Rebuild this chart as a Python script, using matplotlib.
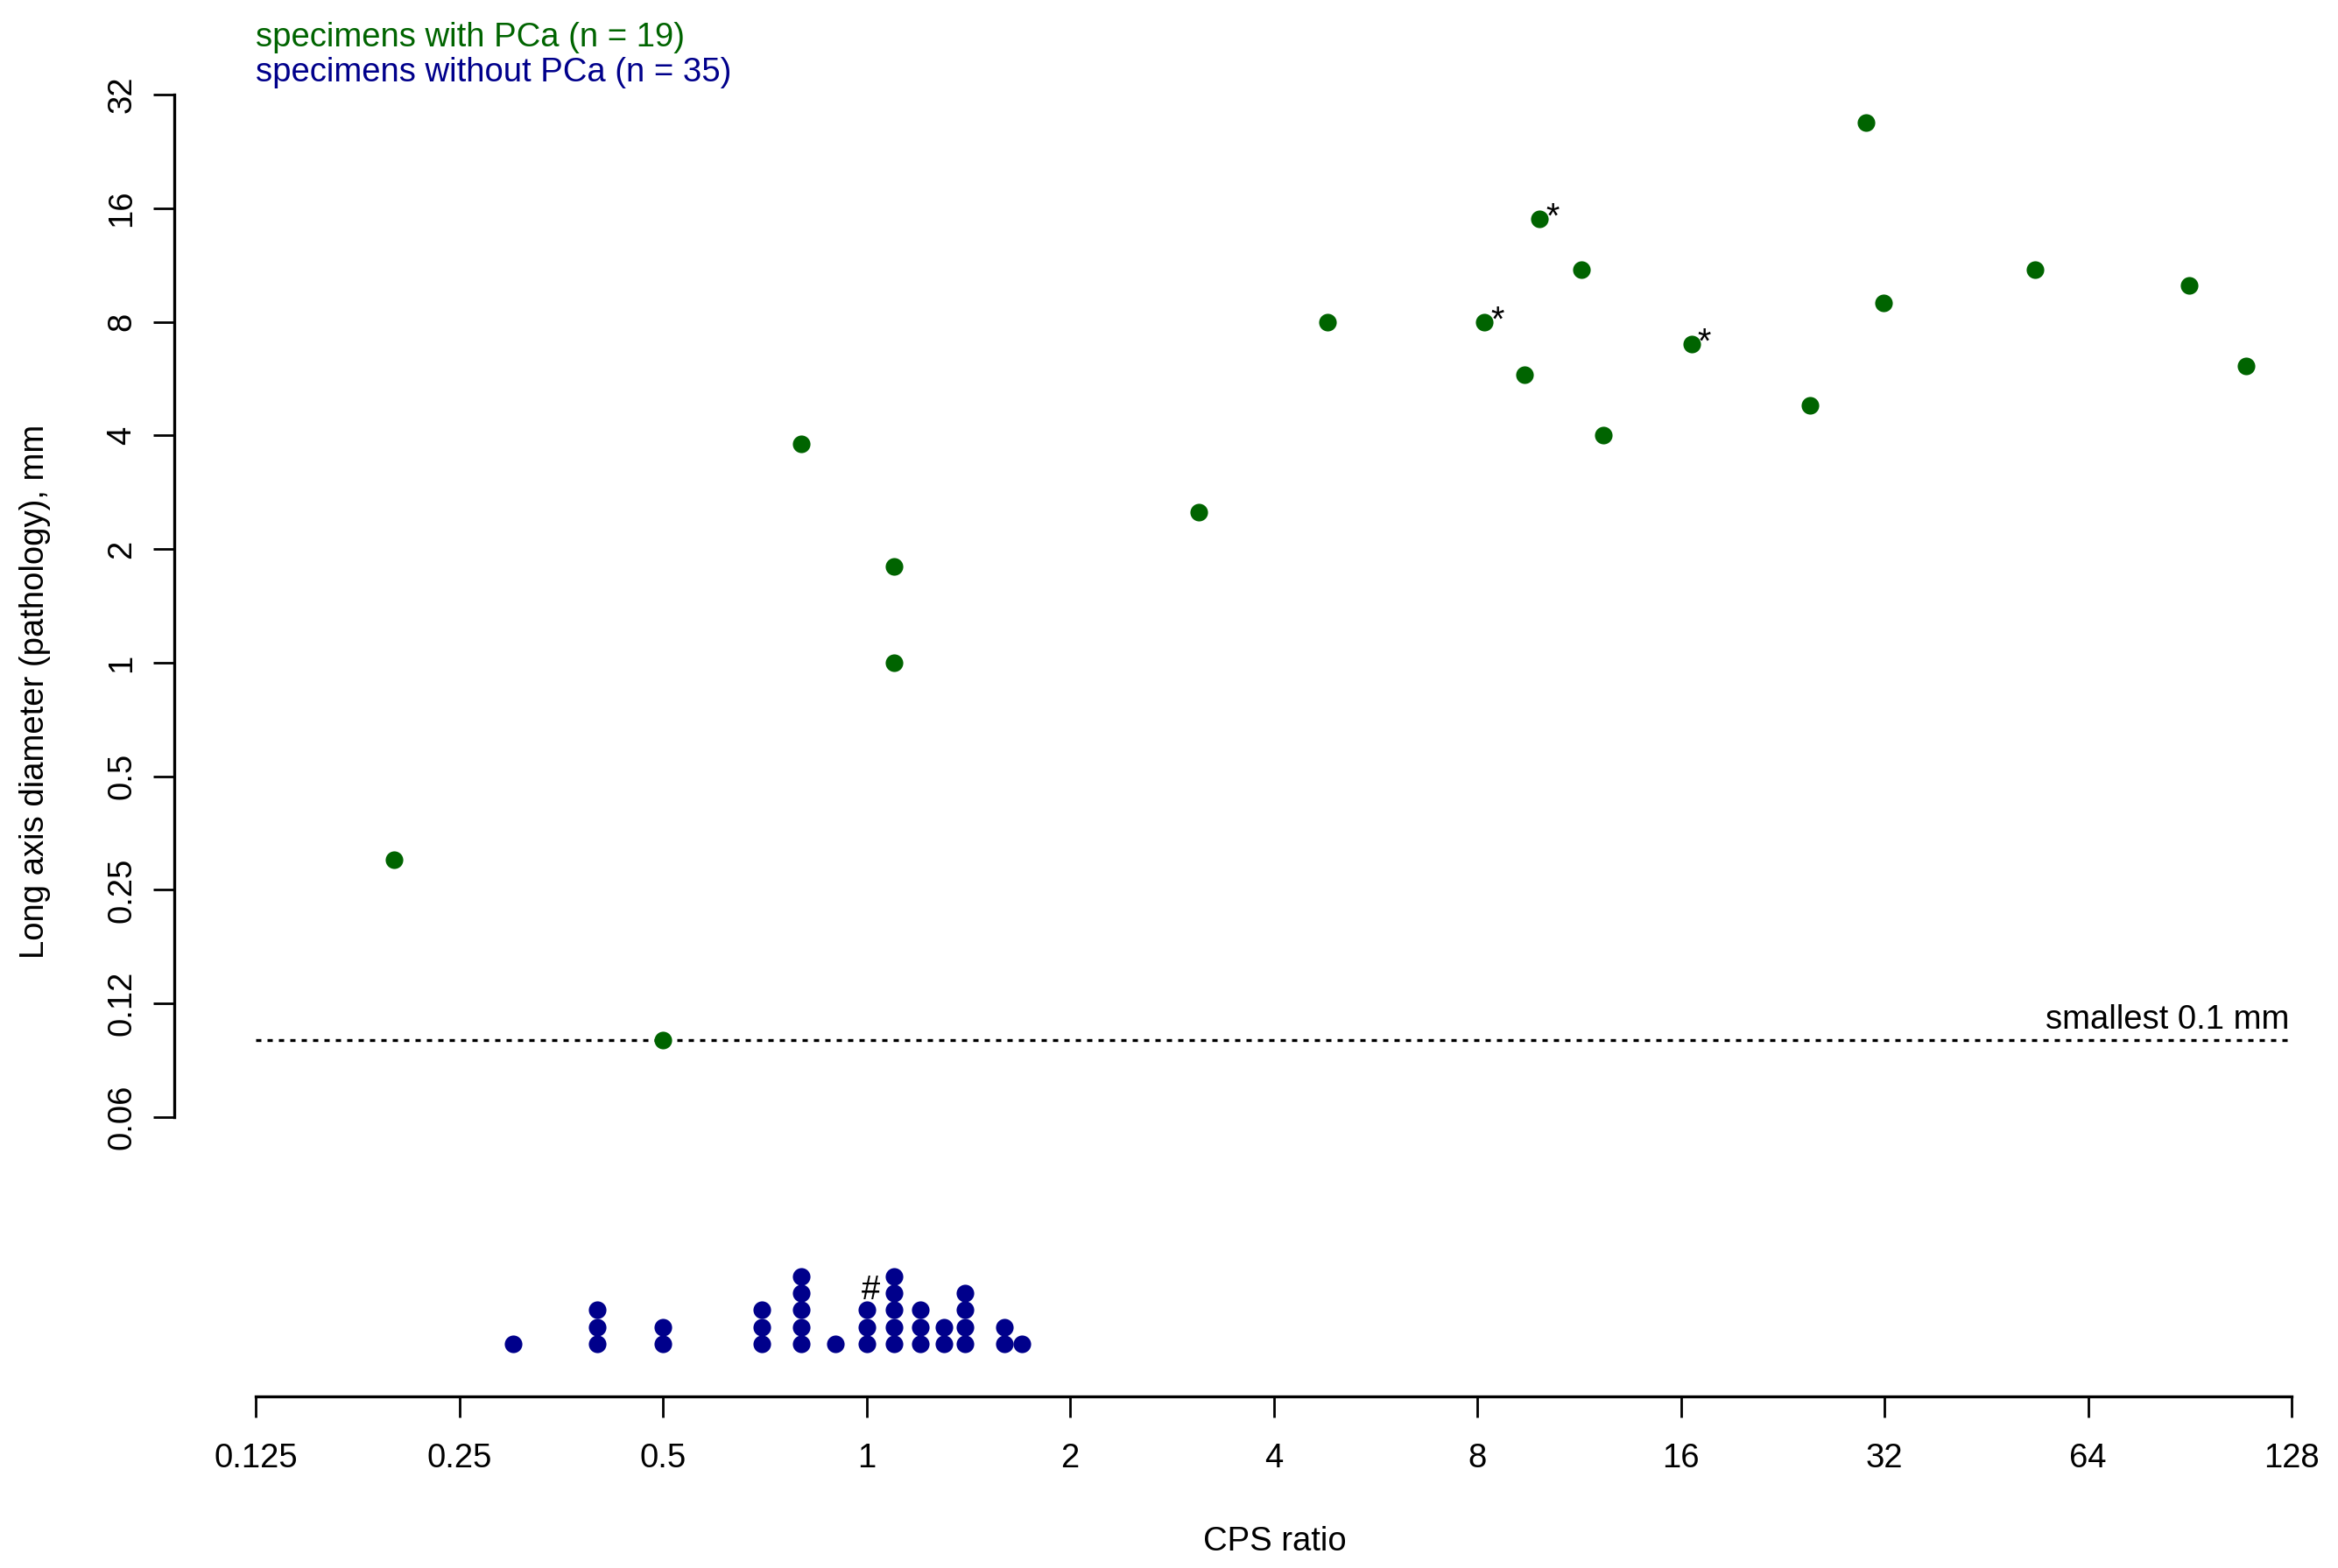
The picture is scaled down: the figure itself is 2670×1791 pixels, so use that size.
import matplotlib
matplotlib.use('Agg')
import matplotlib.pyplot as plt

# specimens with PCa: CPS ratio vs long axis diameter (mm)
green_x = [0.2, 0.5, 0.8, 1.1, 1.1, 3.1, 4.8, 8.2, 9.4, 9.9, 11.4, 12.3,
           16.6, 24.8, 30.1, 31.9, 53.5, 90.4, 109.5]
green_y = [0.3, 0.1, 3.8, 1.8, 1.0, 2.5, 8.0, 8.0, 5.8, 15.0, 11.0, 4.0,
           7.0, 4.8, 27.0, 9.0, 11.0, 10.0, 6.1]
green_star = [False, False, False, False, False, False, False, True, False, True,
              False, False, True, False, False, False, False, False, False]

# specimens without PCa: CPS ratio and number of specimens at each value
blue_x = [0.3, 0.4, 0.5, 0.7, 0.8, 0.9, 1.0, 1.1, 1.2, 1.3, 1.4, 1.6, 1.7]
blue_n = [1, 3, 2, 3, 5, 1, 3, 5, 3, 2, 4, 2, 1]
hash_x = 1.0

x_ticks = [0.125, 0.25, 0.5, 1, 2, 4, 8, 16, 32, 64, 128]
x_labels = ['0.125', '0.25', '0.5', '1', '2', '4', '8', '16', '32', '64', '128']
y_ticks = [0.0625, 0.125, 0.25, 0.5, 1, 2, 4, 8, 16, 32]
y_labels = ['0.06', '0.12', '0.25', '0.5', '1', '2', '4', '8', '16', '32']
min_size = 0.1

GREEN = '#006400'
BLUE = '#00008b'
FS = 27.5

plt.rcParams['font.family'] = ['Liberation Sans', 'DejaVu Sans']

W, H = 2670, 1791
fig = plt.figure(figsize=(W / 100, H / 100), dpi=100)

# pixel layout of the reference
x_left, x_right = 292, 2617      # 0.125 .. 128
y_top_tick, y_bot_tick = 108, 1276   # 32 .. 0.0625
axis_y = 1595
ax_top = 60
oct_px = (y_bot_tick - y_top_tick) / 9.0

ax = fig.add_axes([x_left / W, 1 - axis_y / H, (x_right - x_left) / W, (axis_y - ax_top) / H])
ax.set_xscale('log', base=2)
ax.set_yscale('log', base=2)
ax.set_xlim(0.125, 128)
ax.set_ylim(0.0625 * 2 ** (-(axis_y - y_bot_tick) / oct_px), 32 * 2 ** ((y_top_tick - ax_top) / oct_px))

ax.plot(green_x, green_y, 'o', color=GREEN, markersize=14.5, markeredgewidth=0, zorder=3)
for x, y, s in zip(green_x, green_y, green_star):
    if s:
        ax.annotate('*', (x, y), xytext=(10.5, 1), textcoords='offset points',
                    ha='center', va='center', fontsize=FS + 1, color='black')

ax.axhline(min_size, color='black', lw=2.4, dashes=(1.8, 2.1), zorder=2)
ax.annotate('smallest 0.1 mm', (128, min_size), xytext=(-2, 9.5), textcoords='offset points',
            ha='right', va='baseline', fontsize=FS)

for side in ['top', 'right']:
    ax.spines[side].set_visible(False)
ax.spines['left'].set_position(('outward', 93 * 0.72))
ax.spines['left'].set_bounds(0.0625, 32)
ax.spines['bottom'].set_bounds(0.125, 128)
for side in ['left', 'bottom']:
    ax.spines[side].set_linewidth(2.4)

ax.set_xticks(x_ticks)
ax.set_xticklabels(x_labels)
ax.set_yticks(y_ticks)
ax.set_yticklabels(y_labels, rotation=90, va='center')
ax.minorticks_off()
ax.tick_params(axis='both', length=17, width=2.0, labelsize=FS)
ax.tick_params(axis='x', pad=21)
ax.tick_params(axis='y', pad=13)

# strip of specimens without PCa, stacked dots
row_px = 19.3
base_px = 1535
strip_top = 1395
sax = fig.add_axes([x_left / W, 1 - axis_y / H, (x_right - x_left) / W, (axis_y - strip_top) / H],
                   sharex=ax)
sax.set_ylim(-(axis_y - base_px) / row_px, -(axis_y - base_px) / row_px + (axis_y - strip_top) / row_px)
sax.axis('off')
sax.patch.set_alpha(0)
bx, by = [], []
for x, n in zip(blue_x, blue_n):
    for k in range(n):
        bx.append(x)
        by.append(k)
sax.plot(bx, by, 'o', color=BLUE, markersize=14.5, markeredgewidth=0)
sax.annotate('#', (hash_x, blue_n[blue_x.index(hash_x)]), xytext=(3.5, 2), textcoords='offset points',
             ha='center', va='center', fontsize=FS)

fig.text(x_left / W, 1 - 42.6 / H, 'specimens with PCa (n = 19)', color=GREEN, fontsize=FS,
         ha='left', va='center')
fig.text(x_left / W, 1 - 83.4 / H, 'specimens without PCa (n = 35)', color=BLUE, fontsize=FS,
         ha='left', va='center')
fig.text(40 / W, 1 - 790 / H, 'Long axis diameter (pathology), mm', rotation=90, fontsize=FS,
         ha='center', va='center')
fig.text(1456 / W, 1 - 1761 / H, 'CPS ratio', fontsize=FS, ha='center', va='center')

fig.savefig('out.png', dpi=100)
